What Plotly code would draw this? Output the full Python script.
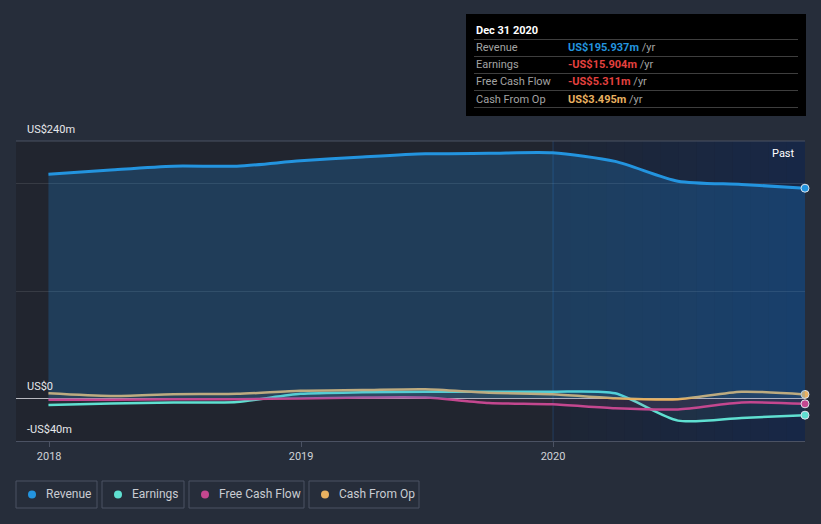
import plotly.graph_objects as go
import datetime as _dt

# ---------------- data ----------------
dates = ["2017-12-31", "2018-03-31", "2018-06-30", "2018-09-30", "2018-12-31",
         "2019-03-31", "2019-06-30", "2019-09-30", "2019-12-31", "2020-03-31",
         "2020-06-30", "2020-09-30", "2020-12-31"]
revenue = [209.0, 213.0, 216.5, 216.5, 221.5, 225.0, 228.0, 228.5, 229.0, 221.0, 202.5, 199.5, 195.937]
earnings = [-6.5, -5.0, -4.0, -3.5, 4.0, 5.5, 6.0, 6.0, 6.0, 4.5, -21.0, -18.5, -15.904]
free_cash_flow = [-1.5, -1.5, -1.0, -1.0, -0.3, 0.5, 0.5, -4.5, -5.8, -9.5, -10.5, -4.0, -5.311]
cash_from_op = [4.5, 2.0, 3.7, 4.0, 6.8, 7.5, 8.3, 5.0, 3.7, 0.0, -1.0, 6.0, 3.495]

series_names = ["Revenue", "Earnings", "Free Cash Flow", "Cash From Op"]
tick_vals = ["2018-01-01", "2019-01-01", "2020-01-01"]
tick_text = ["2018", "2019", "2020"]
y_labels = {240: "US$240m", 0: "US$0", -40: "-US$40m"}
tooltip_date = "Dec 31 2020"

# ---------------- styling ----------------
W, H = 821, 524
L, R, T, B = 16, 16, 141, 83
PW, PH = W - L - R, H - T - B
FONT = "Roboto, 'Open Sans', sans-serif"

colors = {"Revenue": "#2394df", "Earnings": "#5fe0d1",
          "Free Cash Flow": "#c4478f", "Cash From Op": "#e9b160"}
fills = {"Revenue": "rgba(33,150,243,0.22)", "Earnings": "rgba(95,224,209,0.06)",
         "Free Cash Flow": "rgba(196,71,143,0.10)", "Cash From Op": "rgba(233,177,96,0.05)"}
values = {"Revenue": revenue, "Earnings": earnings,
          "Free Cash Flow": free_cash_flow, "Cash From Op": cash_from_op}


def px(x):
    return (x - L) / PW


def py(y):
    return (H - B - y) / PH


fig = go.Figure()

for name in ["Earnings", "Free Cash Flow", "Cash From Op", "Revenue"]:
    fig.add_trace(go.Scatter(
        x=dates, y=values[name], mode="lines", name=name,
        line=dict(color=colors[name], width=3 if name == "Revenue" else 2.5,
                  shape="spline", smoothing=0.7),
        fill="tozeroy", fillcolor=fills[name], hoverinfo="skip",
    ))
    fig.add_trace(go.Scatter(
        x=[dates[-1]], y=[values[name][-1]], mode="markers",
        marker=dict(color=colors[name], size=8, line=dict(color="#dde3ea", width=1)),
        cliponaxis=False, hoverinfo="skip", showlegend=False,
    ))

shapes = []
# right-hand "recent" shaded region as stepped gradient
n_strips = 14
start = _dt.date(2020, 1, 1)
end = _dt.date(2020, 12, 31)
span = (end - start).days
for i in range(n_strips):
    a = start + _dt.timedelta(days=span * i / n_strips)
    b = start + _dt.timedelta(days=span * (i + 1) / n_strips)
    alpha = 0.10 + 0.32 * (i + 0.5) / n_strips
    shapes.append(dict(type="rect", xref="x", yref="paper", x0=a.isoformat(), x1=b.isoformat(),
                       y0=0, y1=1, fillcolor=f"rgba(10,45,105,{alpha:.3f})", line_width=0, layer="below"))
shapes.append(dict(type="line", xref="x", yref="paper", x0="2020-01-01", x1="2020-01-01",
                   y0=0, y1=1, line=dict(color="rgba(40,90,150,0.45)", width=1), layer="below"))
# top boundary line
shapes.append(dict(type="line", xref="paper", yref="paper", x0=0, x1=1, y0=1, y1=1,
                   line=dict(color="#4b5263", width=1), layer="below"))

annotations = []
for v, t in y_labels.items():
    annotations.append(dict(xref="paper", yref="y", x=px(25), y=v, yshift=12,
                            text=t, showarrow=False, xanchor="left", yanchor="middle",
                            font=dict(family=FONT, size=11, color="#e6e8eb")))
annotations.append(dict(xref="paper", yref="paper", x=px(797), y=py(153), text="Past",
                        showarrow=False, xanchor="right", yanchor="middle",
                        font=dict(family=FONT, size=11, color="#ffffff")))

# tooltip box
shapes.append(dict(type="rect", xref="paper", yref="paper", x0=px(466), x1=px(806),
                   y0=py(116), y1=py(14), fillcolor="#000000", line_width=0, layer="above"))
annotations.append(dict(xref="paper", yref="paper", x=px(474), y=py(31), text=f"<b>{tooltip_date}</b>",
                        showarrow=False, xanchor="left", yanchor="middle",
                        font=dict(family=FONT, size=11, color="#ffffff")))
for yy in [39.5, 56.5, 73.5, 90.5, 107.5]:
    shapes.append(dict(type="line", xref="paper", yref="paper", x0=px(474), x1=px(798),
                       y0=py(yy), y1=py(yy), line=dict(color="#3e3e3e", width=1), layer="above"))


def fmt(v):
    return ("-" if v < 0 else "") + f"US${abs(v):.3f}m"


val_colors = {"Revenue": "#2394df", "Earnings": "#e5413f",
              "Free Cash Flow": "#e5413f", "Cash From Op": "#e9b160"}
for i, name in enumerate(series_names):
    yc = 48 + 17 * i
    annotations.append(dict(xref="paper", yref="paper", x=px(474), y=py(yc), text=name,
                            showarrow=False, xanchor="left", yanchor="middle",
                            font=dict(family=FONT, size=11, color="#a3a3a3")))
    annotations.append(dict(xref="paper", yref="paper", x=px(566), y=py(yc),
                            text=f"<span style='color:{val_colors[name]}'><b>{fmt(values[name][-1])}</b></span> /yr",
                            showarrow=False, xanchor="left", yanchor="middle",
                            font=dict(family=FONT, size=11, color="#a3a3a3")))

# custom legend
legend_boxes = [(16, 97), (102, 184), (189, 304), (309, 419)]
for (x0, x1), name in zip(legend_boxes, series_names):
    shapes.append(dict(type="rect", xref="paper", yref="paper", x0=px(x0), x1=px(x1),
                       y0=py(508), y1=py(481), line=dict(color="#4b5263", width=1),
                       fillcolor="rgba(0,0,0,0)", layer="above"))
    shapes.append(dict(type="circle", xref="paper", yref="paper", x0=px(x0 + 12), x1=px(x0 + 20),
                       y0=py(498.5), y1=py(490.5), fillcolor=colors[name], line_width=0, layer="above"))
    annotations.append(dict(xref="paper", yref="paper", x=px(x0 + 28), y=py(494.5), text=name,
                            showarrow=False, xanchor="left", yanchor="middle",
                            font=dict(family=FONT, size=12, color="#c9ccd2")))

fig.update_layout(
    width=W, height=H,
    margin=dict(l=L, r=R, t=T, b=B, pad=0),
    paper_bgcolor="#262d3a", plot_bgcolor="#21252f",
    showlegend=False,
    shapes=shapes, annotations=annotations,
    font=dict(family=FONT, color="#d0d3d8"),
    xaxis=dict(type="date", range=["2017-11-14", "2020-12-31"], tickvals=tick_vals, ticktext=tick_text,
               showgrid=False, zeroline=False, showline=True, linecolor="#4b5263", linewidth=1,
               ticks="outside", ticklen=5, tickcolor="#4b5263",
               tickfont=dict(family=FONT, size=11, color="#d0d3d8")),
    yaxis=dict(range=[-40, 240], tickvals=[0, 100, 200], showticklabels=False,
               showgrid=True, gridcolor="rgba(255,255,255,0.10)", gridwidth=1,
               zeroline=True, zerolinecolor="rgba(235,235,240,0.75)", zerolinewidth=1,
               showline=False, fixedrange=True),
    hovermode=False,
)

fig.write_html("out.html", config={"displayModeBar": False},
               post_script="document.body.style.margin='0';document.body.style.background='#262d3a';")
